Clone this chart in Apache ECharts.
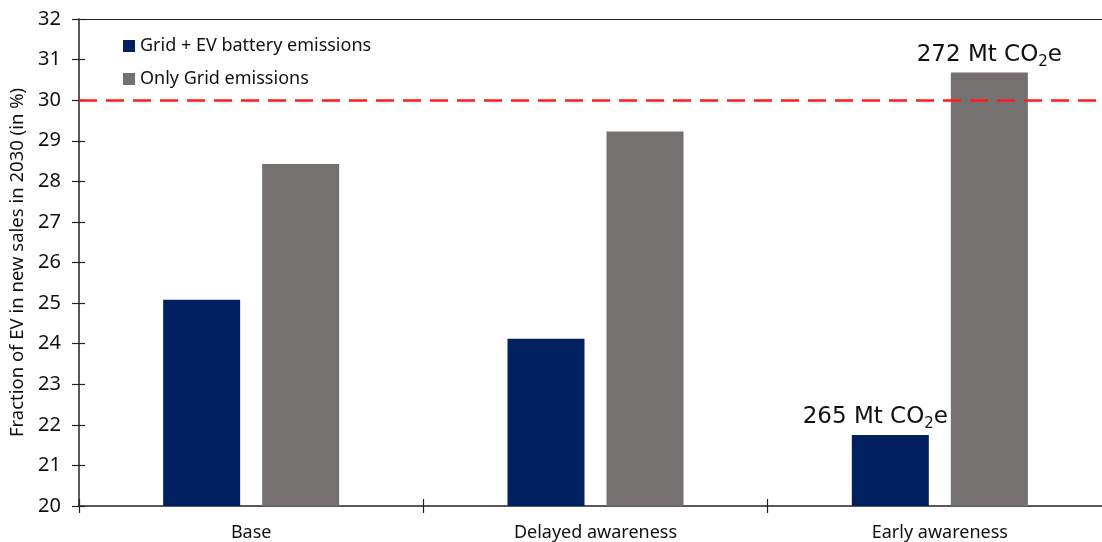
<!DOCTYPE html>
<html><head><meta charset="utf-8">
<script src="https://cdn.jsdelivr.net/npm/echarts@6/dist/echarts.min.js"></script>
<style>html,body{margin:0;padding:0;background:#fff}#c{width:1102px;height:542px}</style>
</head><body><div id="c"></div>
<script>
const categories = ['Base', 'Delayed awareness', 'Early awareness'];
const gridEv = [25.08, 24.12, 21.75];
const onlyGrid = [28.43, 29.23, 30.68];
const seriesNames = ['Grid + EV battery emissions', 'Only Grid emissions'];
const targetLine = 30;
const annoGridEv = ['', '', '265'];
const annoOnlyGrid = ['', '', '272'];

const FONT = 'Noto Sans';
const chart = echarts.init(document.getElementById('c'));

function mk(vals, annos, offX) {
  return vals.map((v, i) => {
    const d = { value: v };
    if (annos[i]) {
      d.label = {
        show: true, position: 'top', distance: 3, offset: [offX, 0],
        formatter: annos[i] + ' Mt CO{s|2}e',
        fontFamily: 'DejaVu Sans', fontSize: 23, color: '#111',
        rich: { s: { fontFamily: 'DejaVu Sans', fontSize: 15, verticalAlign: 'bottom', padding: [15, 0, 0, 0] } }
      };
    }
    return d;
  });
}

chart.setOption({
  animation: false,
  legend: {
    orient: 'vertical', left: 118, top: 32, itemWidth: 12, itemHeight: 12, itemGap: 15,
    icon: 'rect',
    textStyle: { fontFamily: FONT, fontSize: 18, color: '#111' },
    data: seriesNames
  },
  grid: { left: 79, top: 19, bottom: 36, right: -10, outerBoundsMode: 'none', containLabel: false },
  xAxis: [{
    type: 'category', data: categories,
    axisLine: { lineStyle: { color: '#222', width: 1.5 } },
    axisTick: { show: true, alignWithLabel: false, length: 7, lineStyle: { color: '#222', width: 1.2 } },
    axisLabel: { fontFamily: FONT, fontSize: 18, color: '#111', margin: 18 }
  }, {
    type: 'category', data: categories, position: 'bottom',
    axisLine: { show: false },
    axisTick: { show: true, inside: true, length: 7, lineStyle: { color: '#222', width: 1.2 } },
    axisLabel: { show: false }
  }, {
    type: 'category', data: categories, position: 'top',
    axisLine: { show: true, lineStyle: { color: '#222', width: 1.2 } },
    axisTick: { show: false }, axisLabel: { show: false }
  }],
  yAxis: [{
    type: 'value', min: 20, max: 32, interval: 1,
    name: 'Fraction of EV in new sales in 2030 (in %)', nameLocation: 'middle', nameGap: 47,
    nameTextStyle: { fontFamily: FONT, fontSize: 18.5, color: '#111' },
    axisLine: { show: true, lineStyle: { color: '#222', width: 1.5 } },
    axisTick: { show: true, length: 7, lineStyle: { color: '#222', width: 1.2 } },
    axisLabel: { fontFamily: FONT, fontSize: 20, color: '#111', margin: 18 },
    splitLine: { show: false }
  }, {
    type: 'value', min: 20, max: 32, interval: 1, position: 'left',
    axisLine: { show: false },
    axisTick: { show: true, inside: true, length: 6, lineStyle: { color: '#222', width: 1.2 } },
    axisLabel: { show: false }, splitLine: { show: false }
  }],
  series: [{
    name: seriesNames[0], type: 'bar', data: mk(gridEv, annoGridEv, -15),
    barWidth: 77, barGap: '28.6%', itemStyle: { color: '#002060' },
    markLine: {
      silent: true, symbol: 'none', label: { show: false },
      lineStyle: { color: '#ff1a1a', type: [18, 9], width: 2.5 },
      data: [{ yAxis: targetLine }]
    }
  }, {
    name: seriesNames[1], type: 'bar', data: mk(onlyGrid, annoOnlyGrid, 0),
    barWidth: 77, itemStyle: { color: '#767171' }
  }]
});
</script></body></html>
